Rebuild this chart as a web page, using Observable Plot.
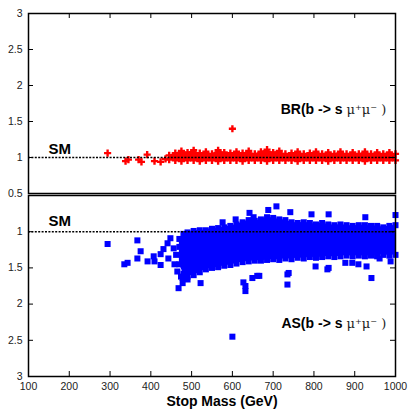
<!DOCTYPE html>
<html><head><meta charset="utf-8">
<script src="https://cdn.jsdelivr.net/npm/d3@7"></script>
<script src="https://cdn.jsdelivr.net/npm/@observablehq/plot@0.6"></script>
<style>
body{margin:0;background:#fff}
#chart{width:409px;height:409px;overflow:hidden;background:#fff;position:relative}
#chart svg{display:block}
#chart svg.topPanel{overflow:visible;position:relative;z-index:2}
#chart svg.botPanel{position:relative;z-index:1}
</style>
</head><body><div id="chart"></div>
<script>
// ---- tick labels / categories ----
const xTicks = [100,200,300,400,500,600,700,800,900,1000];
const yTicksTop = [0.5,1,1.5,2,2.5,3];
const yLabelsBottom = [1,1.5,2,2.5,3];
const smLevel = [1];
const xLabel = ["Stop Mass (GeV)"];
const smLabel = ["SM"];
const brLabel = ["BR(b -> s"];
const asLabel = ["AS(b -> s"];
const muLabel = ["\u03bc\u207a\u03bc\u207b )"];

// ---- top panel: BR (red) ----
const redBandMass   = [445,460,475,490,505,520,535,550,565,580,595,610,625,640,655,670,685,700,715,730,745,760,775,790,805,820,835,850,865,880,895,910,925,940,955,970,985,1000];
const redBandTop    = [1.03,1.06,1.09,1.07,1.10,1.06,1.08,1.05,1.10,1.07,1.06,1.08,1.06,1.09,1.05,1.08,1.11,1.07,1.09,1.05,1.06,1.08,1.05,1.06,1.08,1.05,1.07,1.05,1.08,1.05,1.07,1.05,1.08,1.05,1.07,1.05,1.07,1.05];
const redBandBottom = [0.97,0.96,0.95,0.96,0.96,0.95,0.96,0.96,0.95,0.96,0.96,0.96,0.95,0.96,0.96,0.96,0.95,0.96,0.96,0.96,0.96,0.95,0.96,0.96,0.96,0.96,0.95,0.96,0.96,0.96,0.96,0.96,0.95,0.96,0.96,0.96,0.96,0.96];
const redScatterMass  = [294,338,345,370,377,391,409,424,436,600];
const redScatterValue = [1.06,0.95,0.97,0.97,0.94,1.04,0.95,0.94,0.98,1.40];

// ---- bottom panel: AS (blue) ----
const blueBandMass   = [470,480,490,505,520,535,550,565,580,595,610,625,640,655,670,685,700,715,730,745,760,775,790,805,820,835,850,865,880,895,910,925,940,955,970,985,1000];
const blueBandTop    = [1.10,1.03,1.01,0.99,0.98,0.98,0.96,0.95,0.94,0.92,0.90,0.87,0.84,0.85,0.83,0.80,0.81,0.83,0.84,0.87,0.88,0.87,0.88,0.90,0.88,0.90,0.91,0.90,0.91,0.92,0.91,0.91,0.92,0.92,0.94,0.92,0.91];
const blueBandBottom = [1.45,1.58,1.62,1.60,1.56,1.52,1.50,1.49,1.47,1.46,1.44,1.42,1.41,1.40,1.40,1.39,1.38,1.39,1.37,1.38,1.36,1.37,1.35,1.36,1.35,1.34,1.35,1.34,1.33,1.34,1.33,1.34,1.33,1.33,1.32,1.33,1.32];
const blueScatterMass  = [294,335,343,367,375,367,392,407,409,424,424,431,441,443,448,456,468,478,490,522,478,627,632,632,649,666,735,735,804,833,877,894,909,929,941,961,988,600,642,688,708,742,794,836,926,1000,652,608,576,661,738,836,955,462,458,465,470,474];
const blueScatterValue = [1.17,1.45,1.43,1.12,1.27,1.37,1.41,1.34,1.41,1.31,1.46,1.24,1.16,1.37,1.09,1.23,1.78,1.64,1.66,1.71,1.71,1.70,1.75,1.82,1.64,1.61,1.59,1.73,1.48,1.52,1.43,1.43,1.45,1.48,1.64,1.37,1.41,2.45,0.74,0.70,0.65,0.73,0.76,0.76,0.80,0.77,0.80,0.83,0.87,1.61,1.57,1.50,1.34,1.32,1.45,1.55,1.21,1.62];

// ---- build tables ----
const band = (ms, hi, lo) => ms.map((m, i) => ({m, hi: hi[i], lo: lo[i]}));
const pts = (ms, vs) => ms.map((m, i) => ({m, v: vs[i]}));
const redBand = band(redBandMass, redBandTop, redBandBottom);
const blueBand = band(blueBandMass, blueBandTop, blueBandBottom);
const redPts = [...pts(redBandMass, redBandTop), ...pts(redBandMass, redBandBottom), ...pts(redScatterMass, redScatterValue)];
const bluePts = [...pts(blueBandMass, blueBandTop), ...pts(blueBandMass, blueBandBottom), ...pts(blueScatterMass, blueScatterValue)];

const W = 409, ML = 28, MR = 14;
const FONT = "'Liberation Sans', Arial, sans-serif";
const RED = "#ff0000", BLUE = "#0000ff";
const TL = 5;

function frameMarks(innerW, innerH, labels, ticks, topTicks) {
  return [
    Plot.frame({stroke: "black", strokeWidth: 1.5}),
    Plot.axisY(labels, {anchor: "left", tickSize: 0, tickPadding: 6, tickFormat: d => String(d), fill: "#222", fontSize: 10.5, label: null}),
    Plot.tickY(ticks, {y: d => d, insetRight: innerW - TL, stroke: "black"}),
    Plot.tickY(ticks, {y: d => d, insetLeft: innerW - TL, stroke: "black"}),
    topTicks
      ? Plot.tickX(xTicks, {x: d => d, insetBottom: innerH - TL, stroke: "black"})
      : Plot.tickX(xTicks, {x: d => d, insetTop: innerH - TL, stroke: "black"})
  ];
}

// top panel
const topH = 194, topMT = 13, topMB = 1;
const innerW = W - ML - MR;
const topInner = topH - topMT - topMB;
const topPlot = Plot.plot({
  width: W, height: topH, marginLeft: ML, marginRight: MR, marginTop: topMT, marginBottom: topMB,
  className: "topPanel",
  style: {fontFamily: FONT, fontSize: "11px", background: "white"},
  x: {domain: [100, 1000], axis: null},
  y: {domain: [0.5, 3], axis: null},
  marks: [
    Plot.areaY(redBand, {x: "m", y1: "lo", y2: "hi", fill: RED}),
    Plot.dot(redPts, {x: "m", y: "v", symbol: "cross", r: 3, fill: RED}),
    Plot.ruleY(smLevel, {stroke: "black", strokeWidth: 1.6, strokeDasharray: "2,1.4"}),
    ...frameMarks(innerW, topInner, yTicksTop, yTicksTop, true),
    Plot.text(smLabel, {frameAnchor: "top-left", dx: 20, dy: 130, textAnchor: "start", fontWeight: "bold", fontSize: 15, fill: "black", ariaLabel: "lbl-sm"}),
    Plot.text(brLabel, {frameAnchor: "top-right", dx: -53, dy: 91, textAnchor: "end", fontWeight: "bold", fontSize: 14, fill: "black", ariaLabel: "lbl-proc"}),
    Plot.text(muLabel, {frameAnchor: "top-right", dx: -49, dy: 91, textAnchor: "start", fontSize: 13, fill: "#222", fontFamily: "'DejaVu Serif', serif"})
  ]
});

// bottom panel
const botH = W - topH, botMT = 1, botMB = 33;
const botInner = botH - botMT - botMB;
const bottomPlot = Plot.plot({
  width: W, height: botH, marginLeft: ML, marginRight: MR, marginTop: botMT, marginBottom: botMB,
  className: "botPanel",
  style: {fontFamily: FONT, fontSize: "11px", background: "white"},
  x: {domain: [100, 1000], axis: null},
  y: {domain: [0.5, 3], reverse: true, axis: null},
  marks: [
    Plot.areaY(blueBand, {x: "m", y1: "lo", y2: "hi", fill: BLUE}),
    Plot.dot(bluePts, {x: "m", y: "v", symbol: "square", r: 3.4, fill: BLUE}),
    Plot.ruleY(smLevel, {stroke: "black", strokeWidth: 1.6, strokeDasharray: "2,1.4"}),
    ...frameMarks(innerW, botInner, yLabelsBottom, yTicksTop, false),
    Plot.axisX(xTicks, {anchor: "bottom", tickSize: 0, tickPadding: 6, fill: "#222", fontSize: 10.5, tickFormat: d => String(d), label: null}),
    Plot.text(xLabel, {frameAnchor: "bottom", dx: 10, dy: 20, lineAnchor: "top", fontWeight: "bold", fontSize: 14, fill: "black", ariaLabel: "lbl-x"}),
    Plot.text(smLabel, {frameAnchor: "top-left", dx: 20, dy: 20, textAnchor: "start", fontWeight: "bold", fontSize: 15, fill: "black", ariaLabel: "lbl-sm"}),
    Plot.text(asLabel, {frameAnchor: "top-right", dx: -53, dy: 123, textAnchor: "end", fontWeight: "bold", fontSize: 14, fill: "black", ariaLabel: "lbl-proc"}),
    Plot.text(muLabel, {frameAnchor: "top-right", dx: -49, dy: 123, textAnchor: "start", fontSize: 13, fill: "#222", fontFamily: "'DejaVu Serif', serif"})
  ]
});

const c = document.getElementById("chart");
c.appendChild(topPlot);
c.appendChild(bottomPlot);

// condensed look of the bold labels (the reference uses a narrow face)
const squeeze = {"lbl-sm": 18, "lbl-proc": 50, "lbl-x": 120};
for (const [k, len] of Object.entries(squeeze)) {
  c.querySelectorAll(`g[aria-label="${k}"] text`).forEach(t => {
    t.setAttribute("textLength", len);
    t.setAttribute("lengthAdjust", "spacingAndGlyphs");
  });
}
</script>
</body></html>
